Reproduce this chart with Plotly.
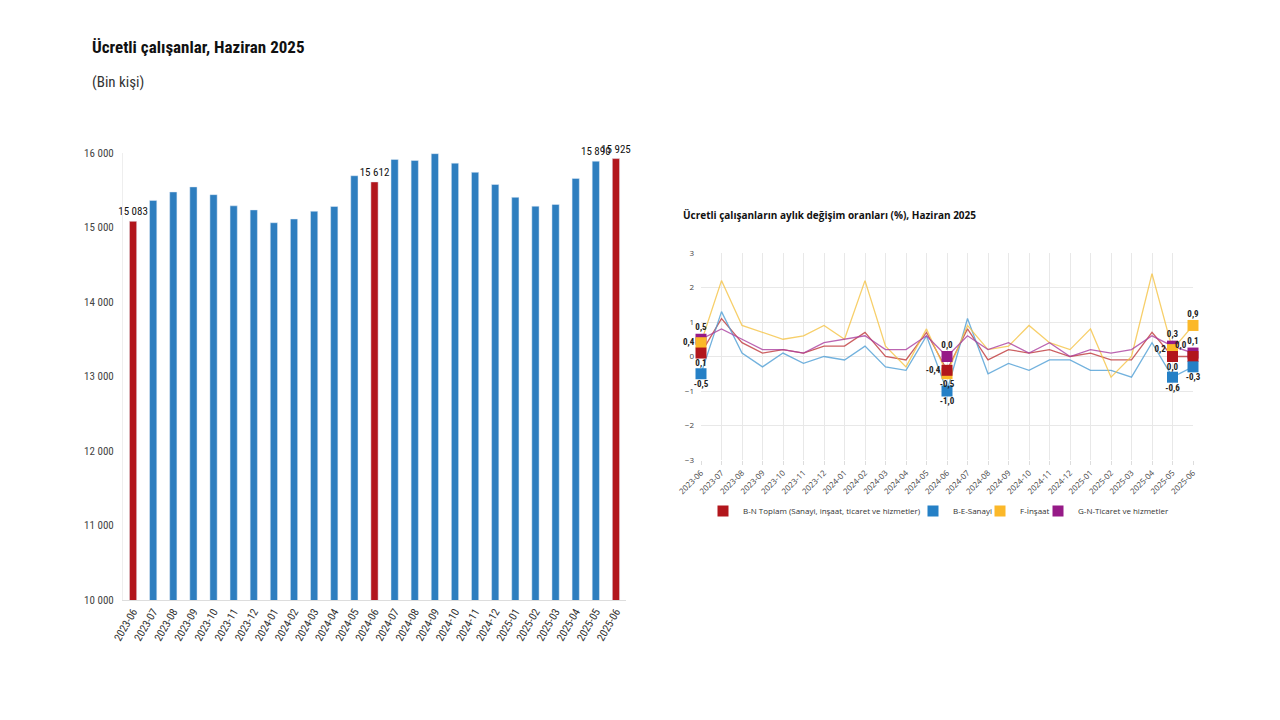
import plotly.graph_objects as go

# Kategoriler (aylar)
months = ["2023-06", "2023-07", "2023-08", "2023-09", "2023-10", "2023-11", "2023-12",
          "2024-01", "2024-02", "2024-03", "2024-04", "2024-05", "2024-06", "2024-07",
          "2024-08", "2024-09", "2024-10", "2024-11", "2024-12", "2025-01", "2025-02",
          "2025-03", "2025-04", "2025-05", "2025-06"]

# Ücretli çalışanlar (bin kişi)
employees = [15083, 15364, 15477, 15545, 15441, 15291, 15236, 15064, 15114, 15218,
             15282, 15695, 15612, 15914, 15900, 15991, 15864, 15741, 15577, 15405,
             15286, 15309, 15659, 15890, 15925]
labelled_months = ["2023-06", "2024-06", "2025-05", "2025-06"]
red_months = ["2023-06", "2024-06", "2025-06"]

# Aylık değişim oranları (%)
total_bn = [0.1, 1.1, 0.4, 0.1, 0.2, 0.1, 0.3, 0.3, 0.7, 0.0, -0.1, 0.7, -0.4,
            0.8, -0.1, 0.2, 0.1, 0.2, 0.0, 0.1, -0.1, -0.1, 0.7, 0.0, 0.0]
industry_be = [-0.5, 1.3, 0.1, -0.3, 0.1, -0.2, 0.0, -0.1, 0.3, -0.3, -0.4, 0.6, -1.0,
               1.1, -0.5, -0.2, -0.4, -0.1, -0.1, -0.4, -0.4, -0.6, 0.4, -0.6, -0.3]
construction_f = [0.4, 2.2, 0.9, 0.7, 0.5, 0.6, 0.9, 0.5, 2.2, 0.3, -0.3, 0.8, -0.5,
                  0.9, 0.2, 0.3, 0.9, 0.4, 0.2, 0.8, -0.6, 0.0, 2.4, 0.2, 0.9]
trade_gn = [0.5, 0.8, 0.5, 0.2, 0.2, 0.1, 0.4, 0.5, 0.6, 0.2, 0.2, 0.6, 0.0,
            0.6, 0.2, 0.4, 0.1, 0.4, 0.0, 0.2, 0.1, 0.2, 0.6, 0.3, 0.1]
marker_months = ["2023-06", "2024-06", "2025-05", "2025-06"]

# (ad, değerler, çizgi rengi, işaret rengi, etiket konumları, lejant)
series = [
    ("B-N Toplam (Sanayi, inşaat, ticaret ve hizmetler)", total_bn, "#c0393b", "#b2161c",
     ["bottom center", "middle left", "bottom center", "top left"], "legend"),
    ("B-E-Sanayi", industry_be, "#4f9fd6", "#2580c6",
     ["bottom center", "bottom center", "bottom center", "bottom center"], "legend2"),
    ("F-İnşaat", construction_f, "#f6c445", "#fbb829",
     ["middle left", "bottom center", "middle left", "top center"], "legend3"),
    ("G-N-Ticaret ve hizmetler", trade_gn, "#ab3fa0", "#961a87",
     ["top center", "top center", "top center", "top center"], "legend4"),
]

narrow = ("Liberation Sans Narrow, Roboto Condensed, Noto Sans Condensed, "
          "DejaVu Sans Condensed, Arial Narrow, Lato, sans-serif")
ui = "Open Sans, Noto Sans, sans-serif"


# sayfa kenar boşluğu (8px) hesaba katılarak ekran pikselinden kağıt koordinatına
def px(x):
    return (x - 8) / 1280


def py(y):
    return 1 - (y - 8) / 720


fig = go.Figure()

# Sol: çubuk grafik
bar_colors = ["#b2161c" if m in red_months else "#2e7ebf" for m in months]
bar_text = [f"{v:,}".replace(",", " ") if m in labelled_months else ""
            for m, v in zip(months, employees)]
fig.add_trace(go.Bar(
    x=months, y=employees, marker_color=bar_colors, width=0.36,
    text=bar_text, textposition="outside", cliponaxis=False, constraintext="none",
    textfont=dict(family=narrow, size=11, color="#111"),
    showlegend=False, xaxis="x", yaxis="y", hoverinfo="x+y"
))

# Sağ: çizgi grafik
for name, vals, line_col, mark_col, pos, lg in series:
    fig.add_trace(go.Scatter(
        x=months, y=vals, mode="lines", line=dict(color=line_col, width=1.3),
        opacity=0.8, showlegend=False, xaxis="x2", yaxis="y2", name=name
    ))

# işaretler: mor en altta, kırmızı üstte
for name, vals, line_col, mark_col, pos, lg in [series[3], series[2], series[0], series[1]]:
    mv = [v for m, v in zip(months, vals) if m in marker_months]
    fig.add_trace(go.Scatter(
        x=marker_months, y=mv, mode="markers",
        marker=dict(symbol="square", size=11, color=mark_col),
        name=name, legend=lg, xaxis="x2", yaxis="y2", cliponaxis=False
    ))

for name, vals, line_col, mark_col, pos, lg in series:
    mv = [v for m, v in zip(months, vals) if m in marker_months]
    fig.add_trace(go.Scatter(
        x=marker_months, y=mv, mode="markers+text",
        marker=dict(symbol="square", size=9, opacity=0),
        text=[f"{v:.1f}".replace(".", ",") for v in mv], textposition=pos,
        textfont=dict(family=narrow, size=9, color="#222", weight="bold"),
        showlegend=False, xaxis="x2", yaxis="y2", cliponaxis=False, hoverinfo="skip"
    ))

legend_style = dict(orientation="h", xanchor="left", yanchor="middle", y=py(511),
                    font=dict(family=ui, size=8, color="#333"), itemwidth=30,
                    bgcolor="rgba(0,0,0,0)", traceorder="normal")

fig.update_layout(
    width=1280, height=720,
    margin=dict(l=0, r=0, t=0, b=0, autoexpand=False),
    paper_bgcolor="white", plot_bgcolor="white",
    separators=", ",
    xaxis=dict(domain=[px(123), px(626)], type="category", range=[-0.5, 24.5],
               tickangle=-60, tickfont=dict(family=narrow, size=11, color="#333"),
               showline=True, linecolor="#ddd", ticks="", showgrid=False,
               automargin=False),
    yaxis=dict(domain=[py(600), py(153)], range=[10000, 16000], dtick=1000,
               tickformat=",d", tickfont=dict(family=narrow, size=11, color="#444"),
               showgrid=False, showline=True, linecolor="#eee", zeroline=False,
               ticks="", ticklabelstandoff=6, automargin=False),
    xaxis2=dict(domain=[px(701), px(1193)], type="category", range=[0, 24],
                tickangle=-45, tickfont=dict(family=ui, size=8, color="#444"),
                showgrid=True, gridcolor="#e8e8e8", showline=False, zeroline=False,
                ticks="outside", ticklen=4, tickcolor="#ddd", anchor="y2",
                automargin=False),
    yaxis2=dict(domain=[py(460), py(253)], range=[-3, 3], dtick=1,
                tickfont=dict(family=ui, size=8, color="#444"),
                showgrid=True, gridcolor="#e8e8e8", zeroline=False,
                ticks="", anchor="x2", ticklabelstandoff=6, automargin=False),
    legend=dict(legend_style, x=px(703)),
    legend2=dict(legend_style, x=px(913)),
    legend3=dict(legend_style, x=px(980)),
    legend4=dict(legend_style, x=px(1038)),
    annotations=[
        dict(text="<b>Ücretli çalışanlar, Haziran 2025</b>", x=px(90), y=py(47),
             xref="paper", yref="paper", xanchor="left", yanchor="middle",
             showarrow=False, font=dict(family=narrow, size=17, color="#111")),
        dict(text="(Bin kişi)", x=px(90), y=py(82), xref="paper", yref="paper",
             xanchor="left", yanchor="middle", showarrow=False,
             font=dict(family=narrow, size=15, color="#333")),
        dict(text="<b>Ücretli çalışanların aylık değişim oranları (%), Haziran 2025</b>",
             x=px(681), y=py(215), xref="paper", yref="paper", xanchor="left",
             yanchor="middle", showarrow=False,
             font=dict(family=ui, size=10, color="#111")),
    ],
)

fig.write_html("out.html")
